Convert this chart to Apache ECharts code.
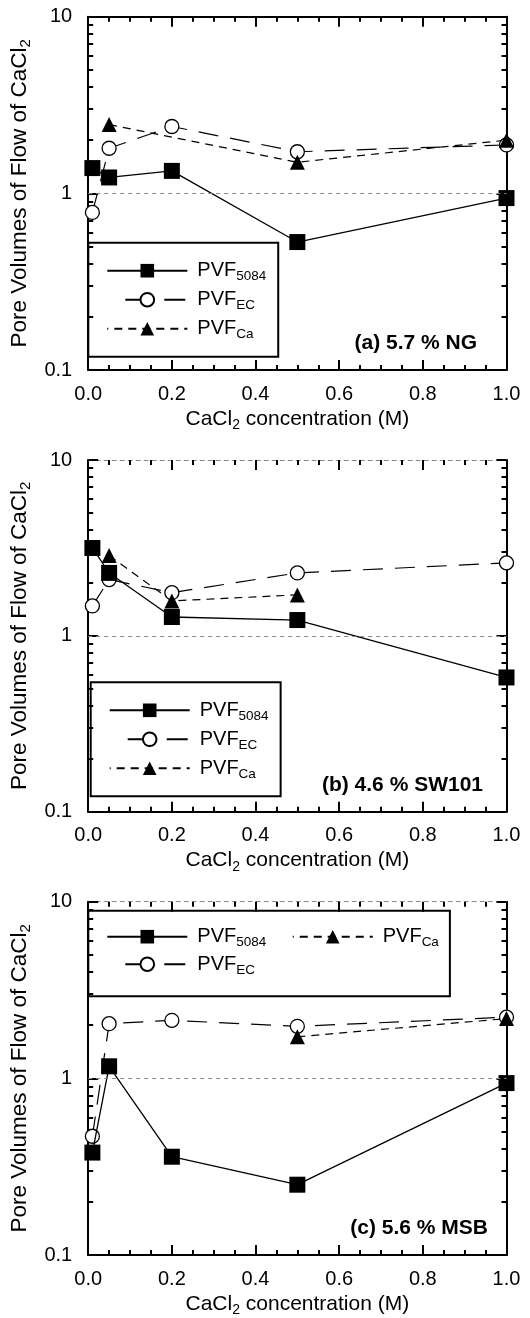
<!DOCTYPE html>
<html><head><meta charset="utf-8">
<script src="https://cdn.jsdelivr.net/npm/echarts@6/dist/echarts.min.js"></script>
<style>html,body{margin:0;padding:0;background:#fff}#c{width:530px;height:1318px}</style>
</head><body><div id="c"></div>
<script>
// ---- data ----
const concentration = [0.01, 0.05, 0.2, 0.5, 1.0];
const xTickLabels = [0, 0.2, 0.4, 0.6, 0.8, 1.0];
const yMajorTicks = [0.1, 1, 10];
const yMinorTicks = [0.2, 0.3, 0.4, 0.5, 0.6, 0.7, 0.8, 0.9, 2, 3, 4, 5, 6, 7, 8, 9];
const panelLabels = ['(a) 5.7 % NG', '(b) 4.6 % SW101', '(c) 5.6 % MSB'];
const seriesNames = ['PVF5084', 'PVFEC', 'PVFCa'];
// panel (a) 5.7 % NG
const pvf5084_NG = [1.39, 1.23, 1.34, 0.53, 0.94];
const pvfEC_NG   = [0.78, 1.80, 2.39, 1.72, 1.88];
const pvfCa_NG   = [null, 2.45, null, 1.50, 2.00];
// panel (b) 4.6 % SW101
const pvf5084_SW = [3.16, 2.28, 1.28, 1.23, 0.58];
const pvfEC_SW   = [1.48, 2.09, 1.76, 2.28, 2.60];
const pvfCa_SW   = [null, 2.86, 1.58, 1.71, null];
// panel (c) 5.6 % MSB
const pvf5084_MSB = [0.38, 1.17, 0.36, 0.25, 0.94];
const pvfEC_MSB   = [0.47, 2.04, 2.13, 1.97, 2.22];
const pvfCa_MSB   = [null, null, null, 1.72, 2.18];

const panels = [
  [pvf5084_NG, pvfEC_NG, pvfCa_NG],
  [pvf5084_SW, pvfEC_SW, pvfCa_SW],
  [pvf5084_MSB, pvfEC_MSB, pvfCa_MSB]
];

// ---- layout / style ----
const FONT = '"Liberation Sans", Arial, Helvetica, sans-serif';
const grids = [
  {left: 79.5, top: 16.7, width: 427, height: 353.3},
  {left: 79.5, top: 460, width: 427, height: 351.7},
  {left: 79.5, top: 901.7, width: 427, height: 353.3}
];
const subRich = {
  m: {fontSize: 20, fontFamily: FONT, color: '#000'},
  s: {fontSize: 13.5, fontFamily: FONT, color: '#000', padding: [12, 0, 0, 0]},
  w: {fontSize: 13.5, fontFamily: FONT, width: 21, backgroundColor: '#fff'}
};
const xNameRich = {
  m: {fontSize: 21, fontFamily: FONT, color: '#000'},
  s: {fontSize: 14, fontFamily: FONT, color: '#000', padding: [12, 0, 0, 0]}
};
const yNameRich = {
  m: {fontSize: 22.5, fontFamily: FONT, color: '#000'},
  s: {fontSize: 15, fontFamily: FONT, color: '#000', padding: [13, 0, 0, 0]}
};
const axisLineStyle = {color: '#000', width: 2};
const logPos = v => Math.log10(v); // tick positions on the auxiliary tick axes (log10 space)

const xAxes = [], yAxes = [], series = [], legends = [], titles = [];

grids.forEach((g, i) => {
  const dottedTop = i > 0;
  xAxes.push({
    gridIndex: i, type: 'value', position: 'bottom', min: 0, max: 1, interval: 0.2,
    axisLine: {onZero: false, lineStyle: axisLineStyle},
    axisTick: {inside: true, length: 10, lineStyle: axisLineStyle},
    minorTick: {show: true, splitNumber: 4, length: 5, lineStyle: axisLineStyle},
    splitLine: {show: false}, minorSplitLine: {show: false},
    axisLabel: {fontSize: 20, fontFamily: FONT, color: '#000', margin: 14,
      formatter: v => v.toFixed(1), customValues: xTickLabels},
    name: '{m|CaCl}{s|2}{m| concentration (M)}', nameLocation: 'middle', nameGap: 36,
    nameTextStyle: {rich: xNameRich}
  });
  xAxes.push({
    gridIndex: i, type: 'value', position: 'top', min: 0, max: 1, interval: 0.2,
    axisLine: {onZero: false, lineStyle: dottedTop ? {color: '#888', width: 1.2, type: [4, 4]} : axisLineStyle},
    axisTick: {inside: true, length: 10, lineStyle: axisLineStyle},
    minorTick: {show: true, splitNumber: 4, length: 5, lineStyle: axisLineStyle},
    splitLine: {show: false}, minorSplitLine: {show: false},
    axisLabel: {show: false}
  });
  // main log axis (data + labels + name)
  yAxes.push({
    gridIndex: i, type: 'log', logBase: 10, min: 0.1, max: 10, position: 'left',
    axisLine: {onZero: false, lineStyle: axisLineStyle},
    axisTick: {show: false},
    splitLine: {show: false},
    axisLabel: {fontSize: 20, fontFamily: FONT, color: '#000', margin: 16,
      customValues: yMajorTicks, formatter: v => String(v)},
    name: '{m|Pore Volumes of Flow of CaCl}{s|2}',
    nameLocation: 'middle', nameGap: 34,
    nameTextStyle: {rich: yNameRich}
  });
  const tickAxis = (pos, vals, len, showLine) => ({
    gridIndex: i, type: 'value', min: -1, max: 1, position: pos,
    axisLine: showLine ? {onZero: false, lineStyle: axisLineStyle} : {show: false},
    axisTick: {inside: true, length: len, lineStyle: axisLineStyle, customValues: vals.map(logPos)},
    splitLine: {show: false},
    axisLabel: {show: false}
  });
  yAxes.push(tickAxis('left', yMajorTicks, 10, false));
  yAxes.push(tickAxis('left', yMinorTicks, 5, false));
  yAxes.push(tickAxis('right', yMajorTicks, 10, true));
  yAxes.push(tickAxis('right', yMinorTicks, 5, false));

  const [a5084, aEC, aCa] = panels[i];
  const pts = arr => concentration.map((x, j) => [x, arr[j]]).filter(p => p[1] != null);
  series.push({
    name: 'PVF5084', type: 'line', xAxisIndex: i * 2, yAxisIndex: i * 5,
    data: pts(a5084), symbol: 'rect', symbolSize: 16, z: 3,
    itemStyle: {color: '#000'}, lineStyle: {color: '#000', width: 1.3},
    markLine: {silent: true, symbol: 'none', label: {show: false},
      lineStyle: {color: '#888', width: 1.2, type: [4, 4]}, data: [{yAxis: 1}]}
  });
  series.push({
    name: 'PVFEC', type: 'line', xAxisIndex: i * 2, yAxisIndex: i * 5,
    data: pts(aEC), symbol: 'circle', symbolSize: 14, z: 2,
    itemStyle: {color: '#fff', borderColor: '#000', borderWidth: 1.3},
    lineStyle: {color: '#000', width: 1.2, type: [20, 12]}
  });
  series.push({
    name: 'PVFCa', type: 'line', xAxisIndex: i * 2, yAxisIndex: i * 5,
    data: pts(aCa), symbol: 'triangle', symbolSize: 15, z: 2,
    itemStyle: {color: '#000'}, lineStyle: {color: '#000', width: 1.2, type: [8, 6]}
  });
});

const legendFmt = name => '{m|PVF}{s|' + name.slice(3) + '}';
const legendFmtWide = name => legendFmt(name) + (name === 'PVF5084' ? '{w| }' : '');
const legendItem = name => name === 'PVFEC'
  ? {name: name, lineStyle: {type: [21, 18], dashOffset: 21}}
  : {name: name};
const legendBase = {
  itemWidth: 80, itemHeight: 17, borderColor: '#000', borderWidth: 2,
  formatter: legendFmt, selectedMode: false,
  textStyle: {rich: subRich, padding: [0, 0, 0, 5]}
};
legends.push(Object.assign({}, legendBase, {
  left: 88.3, top: 242.7, orient: 'vertical', itemGap: 6, padding: [18, 12, 15, 18],
  data: seriesNames.map(legendItem)
}));
legends.push(Object.assign({}, legendBase, {
  left: 90.7, top: 682.3, orient: 'vertical', itemGap: 6, padding: [18, 12, 15, 18],
  data: seriesNames.map(legendItem)
}));
legends.push(Object.assign({}, legendBase, {
  left: 88.3, top: 910.7, orient: 'horizontal', itemGap: 4.5, width: 380, padding: [16, 11, 19, 18],
  formatter: legendFmtWide,
  data: ['PVF5084', 'PVFCa', 'PVFEC'].map(legendItem)
}));

const titlePos = [{right: 53, top: 333}, {right: 47, top: 775}, {right: 42, top: 1218}];
panelLabels.forEach((t, i) => titles.push(Object.assign({
  text: t, padding: 0,
  textStyle: {fontSize: 21, fontWeight: 'bold', fontFamily: FONT, color: '#000'}
}, titlePos[i])));

const chart = echarts.init(document.getElementById('c'), null, {renderer: 'canvas'});
chart.setOption({
  animation: false, backgroundColor: '#fff',
  title: titles, grid: grids, xAxis: xAxes, yAxis: yAxes, legend: legends, series: series
});
</script></body></html>
